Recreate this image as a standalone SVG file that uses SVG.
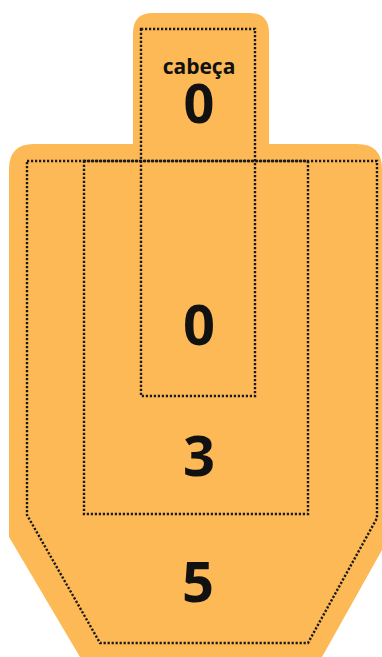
<svg xmlns="http://www.w3.org/2000/svg" width="382" height="657" viewBox="0 0 382 657">
<style>
.dot{fill:none;stroke:#1a1a1a;stroke-width:2.4;stroke-dasharray:2.2 1.8}
.t{font-family:"Open Sans","Noto Sans",sans-serif;font-weight:bold;fill:#111;text-anchor:middle}
</style>
<rect width="382" height="657" fill="#fff"/>
<g id="target">
<path d="M153,13 H249 Q269,13 269,33 V144 H357 Q382,144 382,169 V550 L322,657 H80 L9,537 V169 Q9,144 34,144 H133 V33 Q133,13 153,13 Z" fill="#FCB955"/>
</g>
<g id="zone5">
<path class="dot" d="M27,161 H377 V518 L308,643 H100 L27,515 Z"/>
<text class="t" x="198" y="602" font-size="56">5</text>
</g>
<g id="zone3">
<rect class="dot" x="84" y="161" width="224" height="353"/>
<text class="t" x="199" y="476" font-size="56">3</text>
</g>
<g id="zone0">
<rect class="dot" x="141" y="29" width="114" height="367"/>
<text class="t" x="199" y="345" font-size="56">0</text>
</g>
<g id="head">
<text class="t" x="199" y="74" font-size="21">cabeça</text>
<text class="t" x="199" y="123" font-size="54">0</text>
</g>
</svg>
